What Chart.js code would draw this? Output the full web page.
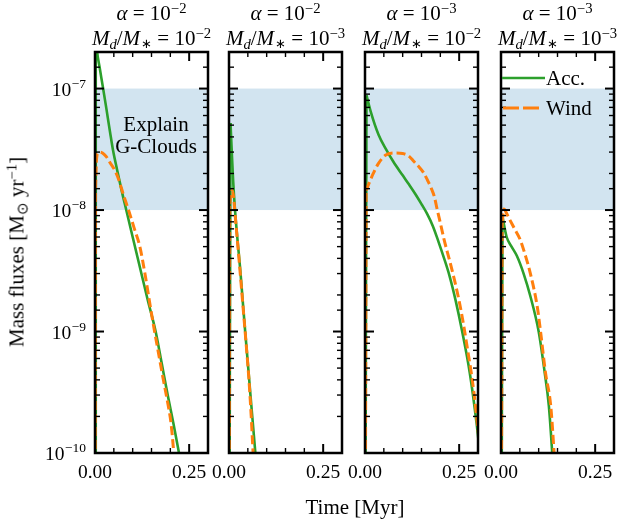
<!DOCTYPE html>
<html><head><meta charset="utf-8">
<script src="https://cdn.jsdelivr.net/npm/chart.js@4.4.1/dist/chart.umd.min.js"></script>
<style>
html,body{margin:0;padding:0;background:#fff;}
#wrap{position:relative;width:626px;height:528px;overflow:hidden;font-family:"Liberation Serif",serif;color:#000;}
canvas{position:absolute;left:0;top:0;pointer-events:none;}
.t{position:absolute;white-space:nowrap;font-size:21px;line-height:21px;}
.c{transform:translateX(-50%);}
.sp{position:relative;top:-0.45em;font-size:70%;}
.sb{position:relative;top:0.28em;font-size:70%;}
.st{position:relative;top:0.2em;font-size:60%;padding-left:1px;}
</style></head>
<body>
<div id="wrap">
<canvas id="c0" width="626" height="528"></canvas>
<canvas id="c1" width="626" height="528"></canvas>
<canvas id="c2" width="626" height="528"></canvas>
<canvas id="c3" width="626" height="528"></canvas>
</div>
<script>
// ---------- data ----------
const ALPHA_EXP = ['−2', '−2', '−3', '−3'];
const MDISK_EXP = ['−2', '−3', '−2', '−3'];

const P1_ACC_T = [0, 0.002, 0.0054, 0.012, 0.02, 0.03, 0.04, 0.048, 0.058, 0.07, 0.083, 0.10, 0.12, 0.14, 0.161, 0.177, 0.193, 0.209, 0.223, 0.235];
const P1_ACC_V = [1e-12, 2.82e-7, 2.04e-7, 1.51e-7, 1.07e-7, 6.9e-8, 4.37e-8, 3.09e-8, 2.19e-8, 1.48e-8, 1.0e-8, 6.0e-9, 3.3e-9, 1.82e-9, 1.0e-9, 5.5e-10, 3.0e-10, 1.7e-10, 1.0e-10, 6.3e-11];
const P1_WIND_T = [0, 0.0015, 0.004, 0.008, 0.013, 0.02, 0.03, 0.04, 0.05, 0.063, 0.075, 0.089, 0.104, 0.119, 0.133, 0.145, 0.157, 0.168, 0.179, 0.191, 0.202, 0.209, 0.215];
const P1_WIND_V = [1e-12, 1.5e-8, 2.6e-8, 2.95e-8, 3.0e-8, 2.95e-8, 2.75e-8, 2.45e-8, 2.2e-8, 1.78e-8, 1.35e-8, 1.0e-8, 7.1e-9, 5.0e-9, 2.95e-9, 1.74e-9, 1.05e-9, 6.8e-10, 4.4e-10, 2.8e-10, 1.74e-10, 1.0e-10, 5e-11];

const P2_ACC_T = [0, 0.004, 0.007, 0.011, 0.016, 0.023, 0.03, 0.037, 0.043, 0.05, 0.057, 0.064, 0.07, 0.076];
const P2_ACC_V = [1e-12, 5.2e-8, 3.2e-8, 1.74e-8, 1.0e-8, 5.5e-9, 3.2e-9, 1.7e-9, 1.0e-9, 5.5e-10, 3.0e-10, 1.66e-10, 1.0e-10, 6.3e-11];
const P2_WIND_T = [0, 0.002, 0.005, 0.009, 0.013, 0.018, 0.025, 0.032, 0.039, 0.046, 0.053, 0.059, 0.064, 0.07];
const P2_WIND_V = [1e-12, 1.12e-8, 1.38e-8, 1.45e-8, 1.2e-8, 7.9e-9, 4.5e-9, 2.5e-9, 1.38e-9, 7.6e-10, 4.0e-10, 2.0e-10, 1.0e-10, 5e-11];

const P3_ACC_T = [0, 0.004, 0.015, 0.036, 0.056, 0.075, 0.099, 0.117, 0.134, 0.150, 0.165, 0.18, 0.195, 0.21, 0.224, 0.241, 0.258, 0.278, 0.296, 0.305];
const P3_ACC_V = [1e-12, 8.8e-8, 6.5e-8, 4.17e-8, 3.16e-8, 2.51e-8, 1.95e-8, 1.62e-8, 1.35e-8, 1.12e-8, 9.3e-9, 7.4e-9, 5.5e-9, 4.0e-9, 2.9e-9, 1.78e-9, 1.0e-9, 4.6e-10, 1.78e-10, 1.0e-10];
const P3_WIND_T = [0, 0.003, 0.012, 0.022, 0.035, 0.054, 0.081, 0.100, 0.116, 0.130, 0.142, 0.155, 0.166, 0.176, 0.184, 0.192, 0.201, 0.210, 0.224, 0.237, 0.25, 0.262, 0.272, 0.282, 0.29, 0.297, 0.305];
const P3_WIND_V = [1e-12, 1.45e-8, 1.7e-8, 2.0e-8, 2.4e-8, 2.82e-8, 2.95e-8, 2.92e-8, 2.79e-8, 2.51e-8, 2.29e-8, 2.04e-8, 1.76e-8, 1.51e-8, 1.29e-8, 1.0e-8, 7.6e-9, 5.7e-9, 3.9e-9, 2.7e-9, 1.78e-9, 1.12e-9, 7.2e-10, 4.6e-10, 3.0e-10, 1.9e-10, 1.12e-10];

const P4_ACC_T = [0, 0.004, 0.015, 0.028, 0.042, 0.060, 0.078, 0.100, 0.116, 0.127, 0.136, 0.142];
const P4_ACC_V = [1e-12, 8.8e-9, 6.0e-9, 5.0e-9, 4.2e-9, 3.0e-9, 1.95e-9, 1.0e-9, 4.6e-10, 2.45e-10, 1.0e-10, 5e-11];
const P4_WIND_T = [0, 0.003, 0.008, 0.014, 0.02, 0.035, 0.051, 0.065, 0.078, 0.096, 0.105, 0.118, 0.132, 0.141, 0.147];
const P4_WIND_V = [1e-12, 7.9e-9, 1.02e-8, 9.5e-9, 8.7e-9, 7.1e-9, 5.7e-9, 4.2e-9, 3.0e-9, 1.62e-9, 1.0e-9, 4.6e-10, 2.45e-10, 1.0e-10, 5e-11];

const ACC_T = [P1_ACC_T, P2_ACC_T, P3_ACC_T, P4_ACC_T];
const ACC_V = [P1_ACC_V, P2_ACC_V, P3_ACC_V, P4_ACC_V];
const WIND_T = [P1_WIND_T, P2_WIND_T, P3_WIND_T, P4_WIND_T];
const WIND_V = [P1_WIND_V, P2_WIND_V, P3_WIND_V, P4_WIND_V];

const X_TICK_VALUES = [0, 0.25];
const X_TICK_LABELS = ['0.00', '0.25'];
const Y_TICK_VALUES = [1e-10, 1e-9, 1e-8, 1e-7];
const Y_TICK_BASE = '10';
const Y_TICK_EXP = ['−10', '−9', '−8', '−7'];
const BAND = [1e-8, 1e-7];
const BAND_TEXT = ['Explain', 'G-Clouds'];
const X_RANGE = [0, 0.3];
const Y_RANGE = [1e-10, 2e-7];

// ---------- styling / layout ----------
const GREEN = '#2ca02c', ORANGE = '#ff7f0e', BANDCOL = 'rgba(31,119,180,0.2)';
const FONT = '"Liberation Serif", serif';
const PANEL_LEFT = [95, 229, 365, 501];
const PANEL_W = 113;
const TOP = 52, BOTTOM = 453, XH = 40;
Chart.defaults.color = '#000';
Chart.defaults.font.family = FONT;

const isMajorY = v => { const e = Math.log10(v); return Math.abs(e - Math.round(e)) < 1e-6; };
const near = (a, b) => Math.abs(a - b) < 1e-7;

const framePlugin = {
  id: 'frame',
  beforeDatasetsDraw(chart) {
    const { ctx, chartArea: a, scales: { y } } = chart;
    const y1 = y.getPixelForValue(BAND[1]), y0 = y.getPixelForValue(BAND[0]);
    ctx.save();
    ctx.fillStyle = BANDCOL;
    ctx.fillRect(a.left, y1, a.right - a.left, y0 - y1);
    ctx.restore();
  },
  afterDatasetsDraw(chart) {
    const { ctx, chartArea: a, scales: { x, y } } = chart;
    ctx.save();
    ctx.strokeStyle = '#000';
    const seg = (x1, y1, x2, y2) => { ctx.beginPath(); ctx.moveTo(x1, y1); ctx.lineTo(x2, y2); ctx.stroke(); };
    y.ticks.forEach(t => {
      const p = y.getPixelForValue(t.value);
      if (p < a.top - 0.5 || p > a.bottom + 0.5) return;
      const maj = isMajorY(t.value);
      const len = maj ? 9 : 5;
      ctx.lineWidth = maj ? 2 : 1.4;
      seg(a.left, p, a.left + len, p);
      seg(a.right, p, a.right - len, p);
    });
    x.ticks.forEach(t => {
      const p = x.getPixelForValue(t.value);
      const maj = X_TICK_VALUES.some(v => near(v, t.value));
      const len = maj ? 9 : 5;
      ctx.lineWidth = maj ? 2 : 1.4;
      seg(p, a.bottom, p, a.bottom - len);
      seg(p, a.top, p, a.top + len);
    });
    ctx.lineWidth = 2.5;
    ctx.strokeRect(a.left, a.top, a.right - a.left, a.bottom - a.top);
    ctx.restore();
  }
};

// y tick labels as 10 with a raised exponent, at the library's tick positions
const yLabelPlugin = {
  id: 'ylabels',
  afterDraw(chart) {
    const { ctx, chartArea: a, scales: { y } } = chart;
    ctx.save();
    ctx.fillStyle = '#000';
    ctx.textBaseline = 'alphabetic';
    ctx.textAlign = 'left';
    const xr = a.left - 9;
    Y_TICK_VALUES.forEach((v, k) => {
      const p = y.getPixelForValue(v);
      ctx.font = '13.5px ' + FONT;
      const we = ctx.measureText(Y_TICK_EXP[k]).width;
      ctx.fillText(Y_TICK_EXP[k], xr - we, p - 1);
      ctx.font = '19.5px ' + FONT;
      const wb = ctx.measureText(Y_TICK_BASE).width;
      ctx.fillText(Y_TICK_BASE, xr - we - wb - 0.5, p + 7);
    });
    ctx.restore();
  }
};

const notePlugin = {
  id: 'note',
  afterDatasetsDraw(chart) {
    const { ctx, scales: { x, y } } = chart;
    ctx.save();
    ctx.font = '21px ' + FONT;
    ctx.fillStyle = '#000';
    ctx.textAlign = 'center';
    ctx.textBaseline = 'alphabetic';
    const cx = x.getPixelForValue(0.162);
    const top = y.getPixelForValue(BAND[1]);
    ctx.fillText(BAND_TEXT[0], cx, top + 42);
    ctx.fillText(BAND_TEXT[1], cx, top + 64);
    ctx.restore();
  }
};

const legendPlugin = {
  id: 'legendIn',
  afterDraw(chart) {
    const { ctx, chartArea: a } = chart;
    const ds = chart.data.datasets;
    ctx.save();
    ctx.font = '21px ' + FONT;
    ctx.fillStyle = '#000';
    ctx.textBaseline = 'alphabetic';
    ctx.strokeStyle = ds[0].borderColor; ctx.lineWidth = ds[0].borderWidth;
    ctx.beginPath(); ctx.moveTo(a.left + 1, a.top + 26); ctx.lineTo(a.left + 44, a.top + 26); ctx.stroke();
    ctx.fillText(ds[0].label, a.left + 45, a.top + 33);
    ctx.strokeStyle = ds[1].borderColor; ctx.lineWidth = ds[1].borderWidth;
    ctx.setLineDash([16, 4]);
    ctx.beginPath(); ctx.moveTo(a.left + 2, a.top + 56); ctx.lineTo(a.left + 38, a.top + 56); ctx.stroke();
    ctx.setLineDash([]);
    ctx.fillText(ds[1].label, a.left + 45, a.top + 63);
    ctx.restore();
  }
};

function toXY(ts, vs) { return ts.map((t, i) => ({ x: t, y: vs[i] })); }

function makeChart(i) {
  const L = PANEL_LEFT[i], R = L + PANEL_W;
  const yW = i === 0 ? 80 : 0;
  const plugins = [framePlugin];
  if (i === 0) { plugins.push(notePlugin); plugins.push(yLabelPlugin); }
  if (i === 3) plugins.push(legendPlugin);
  const acc = toXY(ACC_T[i], ACC_V[i]);
  const wind = toXY(WIND_T[i], WIND_V[i]);
  const accStyle = { borderColor: GREEN, borderWidth: 2.6, pointRadius: 0, fill: false };
  const windStyle = { borderColor: ORANGE, borderWidth: 3, borderDash: [9, 4], pointRadius: 0, fill: false };
  new Chart(document.getElementById('c' + i), {
    type: 'line',
    data: {
      datasets: [
        Object.assign({ label: 'Acc.', data: acc.slice(1), cubicInterpolationMode: 'monotone', order: 3 }, accStyle),
        Object.assign({ label: 'Wind', data: wind.slice(1), cubicInterpolationMode: 'monotone', order: 1 }, windStyle),
        Object.assign({ label: 'Acc. rise', data: acc.slice(0, 2), tension: 0, order: 4 }, accStyle),
        Object.assign({ label: 'Wind rise', data: wind.slice(0, 2), tension: 0, order: 2 }, windStyle)
      ]
    },
    options: {
      responsive: false, animation: false, devicePixelRatio: 1,
      events: [],
      layout: { padding: { left: L - yW, right: 626 - R, top: TOP, bottom: 528 - BOTTOM - XH } },
      plugins: { legend: { display: false }, tooltip: { enabled: false } },
      scales: {
        x: {
          type: 'linear', min: X_RANGE[0], max: X_RANGE[1],
          grid: { display: false, drawTicks: false }, border: { display: false },
          ticks: {
            stepSize: 0.05, autoSkip: false, maxRotation: 0, padding: 8,
            font: { family: FONT, size: 19.5 },
            callback: v => { const k = X_TICK_VALUES.findIndex(t => near(t, v)); return k >= 0 ? X_TICK_LABELS[k] : ''; }
          },
          afterFit: s => { s.height = XH; }
        },
        y: {
          type: 'logarithmic', min: Y_RANGE[0], max: Y_RANGE[1],
          grid: { display: false, drawTicks: false }, border: { display: false },
          ticks: { display: false, autoSkip: false },
          afterFit: s => { s.width = yW; }
        }
      }
    },
    plugins
  });
}

// ---------- html text (titles, axis labels) ----------
const wrap = document.getElementById('wrap');
function addText(html, style, cls) {
  const d = document.createElement('div');
  d.className = 't ' + (cls || '');
  d.innerHTML = html;
  Object.assign(d.style, style);
  wrap.appendChild(d);
}
for (let i = 0; i < 4; i++) {
  const cx = PANEL_LEFT[i] + PANEL_W / 2;
  addText('<i>α</i> = 10<span class="sp">' + ALPHA_EXP[i] + '</span>', { left: cx + 'px', top: '3px' }, 'c');
  addText('<i>M</i><span class="sb"><i>d</i></span>/<i>M</i><span class="st">∗</span> = 10<span class="sp">' + MDISK_EXP[i] + '</span>',
    { left: cx + 'px', top: '28px' }, 'c');
}
addText('Time [Myr]', { left: '355px', top: '497px' }, 'c');
addText('Mass fluxes [M<span class="sb">⊙</span> yr<span class="sp">−1</span>]',
  { left: '18px', top: '252px', transform: 'translate(-50%,-50%) rotate(-90deg)' });

for (let i = 0; i < 4; i++) makeChart(i);
</script>
</body></html>
